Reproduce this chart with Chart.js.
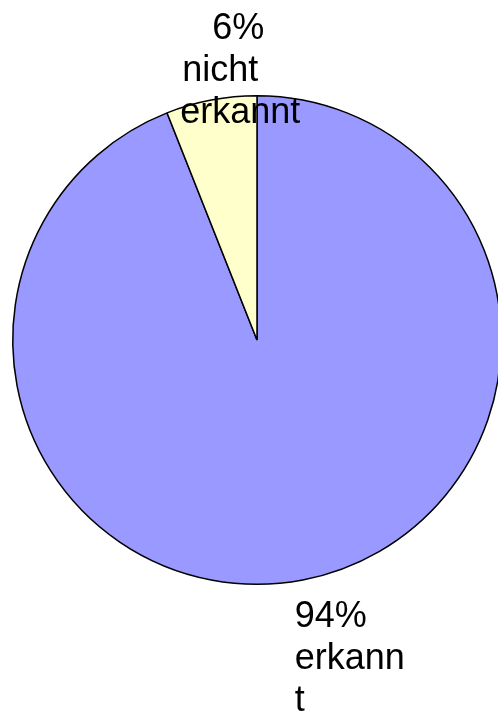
<!DOCTYPE html>
<html>
<head>
<meta charset="utf-8">
<script src="https://cdn.jsdelivr.net/npm/chart.js@4.4.0/dist/chart.umd.min.js"></script>
<style>
    html, body { margin: 0; padding: 0; background: #fff; overflow: hidden; }
    .chart-box { position: relative; width: 506px; height: 718px; }
</style>
</head>
<body>
<div class="chart-box"><canvas id="pie-chart"></canvas></div>
<script>
const sliceLabels = ["erkannt", "nicht erkannt"];
const sliceValues = [94, 6];
const labelLines = [
    ["94%", "erkann", "t"],
    ["6%", "nicht", "erkannt"],
];
const sliceColors = ["#9999FF", "#FFFFCC"];

// label placement relative to the outer edge of each slice's middle
const labelStyle = [
    { dx: -8, dy: 47, align: "left", from: "top", shift: [0, 0, 0] },
    { dx: 29, dy: 23, align: "center", from: "bottom", shift: [-2, -20, 0] },
];
const lineHeight = 42;

const sliceLabelPlugin = {
    id: "sliceLabels",
    afterDatasetsDraw(chart) {
        const ctx = chart.ctx;
        const arcs = chart.getDatasetMeta(0).data;
        ctx.save();
        ctx.font = "36px 'Liberation Sans', Arial, sans-serif";
        ctx.fillStyle = "#000";
        ctx.textBaseline = "alphabetic";

        arcs.forEach((arc, i) => {
            const { x, y, startAngle, endAngle, outerRadius } = arc.getProps(
                ["x", "y", "startAngle", "endAngle", "outerRadius"], true);
            const style = labelStyle[i];
            const mid = (startAngle + endAngle) / 2;
            const ax = x + Math.cos(mid) * outerRadius + style.dx;
            const ay = y + Math.sin(mid) * outerRadius + style.dy;
            const lines = labelLines[i];
            ctx.textAlign = style.align;

            lines.forEach((line, n) => {
                const offset = style.from === "top" ? n : n - (lines.length - 1);
                ctx.fillText(line, ax + style.shift[n], ay + offset * lineHeight);
            });
        });
        ctx.restore();
    },
};

new Chart(document.getElementById("pie-chart"), {
    type: "pie",
    data: {
        labels: sliceLabels,
        datasets: [
            {
                data: sliceValues,
                backgroundColor: sliceColors,
                borderColor: "#000",
                borderWidth: 1.5,
            },
        ],
    },
    options: {
        responsive: true,
        maintainAspectRatio: false,
        animation: false,
        layout: {
            padding: { left: 12, right: 4, top: 95, bottom: 133 },
        },
        plugins: {
            legend: { display: false },
            tooltip: { enabled: false },
        },
    },
    plugins: [sliceLabelPlugin],
});
</script>
</body>
</html>
